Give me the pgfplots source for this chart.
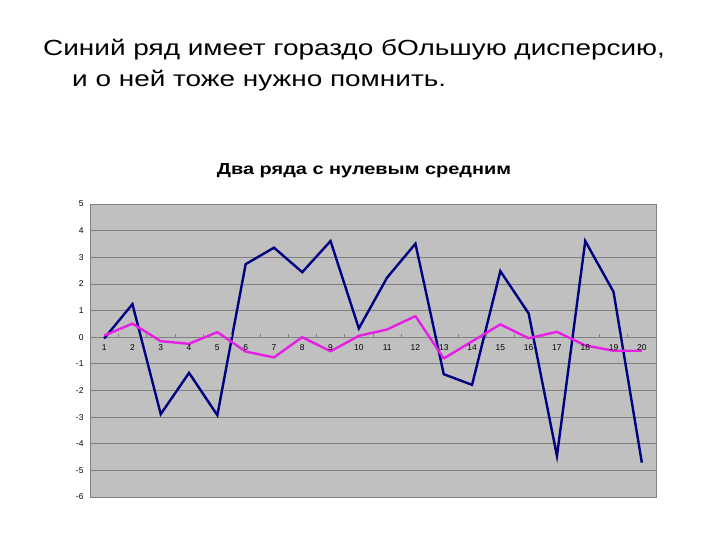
\documentclass[border=0pt]{standalone}
\usepackage{pgfplots}
\pgfplotsset{compat=1.18}
\usepackage{fontspec}
\setmainfont{Liberation Sans}
\definecolor{bgray}{RGB}{192,192,192}
\definecolor{ggray}{RGB}{128,128,128}
\definecolor{navy}{RGB}{0,0,128}
\definecolor{mag}{RGB}{230,30,230}
\pgfplotstableread{
x blue pink
1 -0.05 0.06
2 1.24 0.51
3 -2.89 -0.15
4 -1.34 -0.25
5 -2.93 0.19
6 2.74 -0.54
7 3.36 -0.76
8 2.44 0.00
9 3.61 -0.53
10 0.33 0.05
11 2.24 0.29
12 3.51 0.79
13 -1.39 -0.80
14 -1.79 -0.16
15 2.48 0.48
16 0.89 -0.04
17 -4.46 0.20
18 3.61 -0.31
19 1.70 -0.51
20 -4.71 -0.51
}\data
\begin{document}
\begin{tikzpicture}
\useasboundingbox (0,0) rectangle (720bp,540bp);
\node[anchor=base west,font=\fontsize{22}{26}\selectfont,inner sep=0pt] at (43bp,484bp) {\scalebox{1.275}[1]{Синий ряд имеет гораздо бОльшую дисперсию,}};
\node[anchor=base west,font=\fontsize{22}{26}\selectfont,inner sep=0pt] at (72bp,453bp) {\scalebox{1.275}[1]{и о ней тоже нужно помнить.}};
\node[anchor=base,font=\fontsize{16}{19}\selectfont\bfseries,inner sep=0pt] at (364bp,365bp) {\scalebox{1.25}[1]{Два ряда с нулевым средним}};
\begin{axis}[
  at={(90bp,43bp)}, anchor=south west,
  width=566bp, height=293bp, scale only axis,
  xmin=0.5, xmax=20.5, ymin=-6, ymax=5,
  ytick={-6,...,5}, xtick=\empty,
  axis background/.style={fill=bgray},
  axis line style={ggray, line width=0.8pt},
  ymajorgrids, grid style={ggray, line width=0.7pt},
  major tick length=0pt,
  yticklabel style={font=\fontsize{8.5}{9}\selectfont, xshift=-3bp},
  /pgf/number format/assume math mode=true,
  clip=true,
]
\addplot[navy, line width=2.4bp, line join=miter] table[x=x,y=blue]{\data};
\addplot[mag, line width=2.4bp, line join=round] table[x=x,y=pink]{\data};
\end{axis}
\begin{axis}[
  at={(90bp,43bp)}, anchor=south west,
  width=566bp, height=293bp, scale only axis,
  xmin=0.5, xmax=20.5, ymin=-6, ymax=5,
  axis x line=middle, axis y line=none,
  x axis line style={draw=none,-},
  xtick={1,...,20},
  major tick length=0pt,
  minor xtick={1.5,2.5,...,19.5},
  minor tick length=3bp,
  xtick style={ggray},
  minor tick style={ggray, line width=0.6pt, yshift=1.5bp},
  xticklabel style={font=\fontsize{8.5}{9}\selectfont, yshift=-4bp},
  /pgf/number format/assume math mode=true,
]
\end{axis}
\end{tikzpicture}
\end{document}
